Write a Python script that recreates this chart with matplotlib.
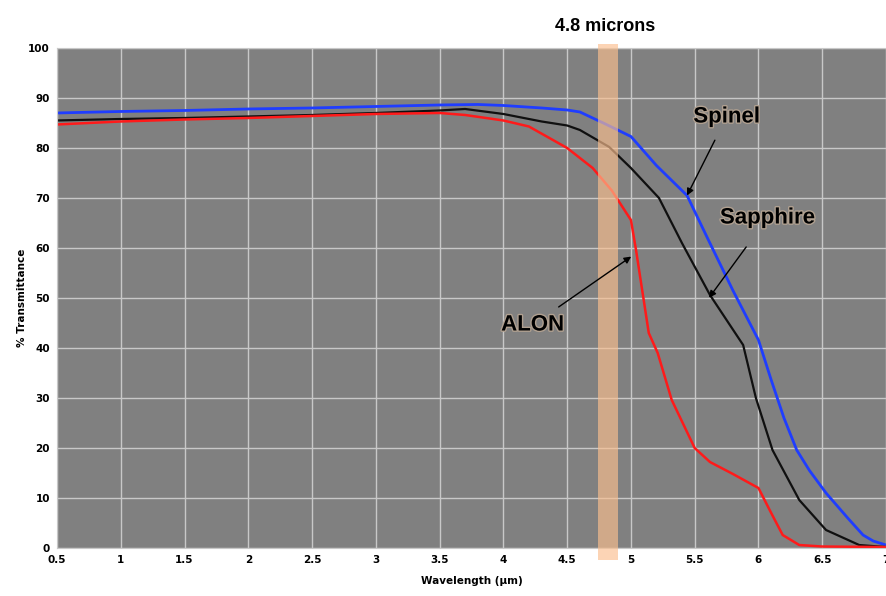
import numpy as np
import matplotlib.pyplot as plt
import matplotlib.transforms as mtransforms
from matplotlib.patches import Rectangle
import matplotlib.patheffects as pe

# Values
spinel_x = [0.5, 1.0, 1.5, 2.0, 2.5, 3.0, 3.5, 3.8, 4.0, 4.3, 4.5, 4.6, 4.8, 5.0, 5.2, 5.44, 5.6, 5.8, 6.0, 6.1, 6.2, 6.3, 6.4, 6.53, 6.7, 6.82, 6.9, 7.0]
spinel_y = [87.0, 87.3, 87.5, 87.8, 88.0, 88.3, 88.6, 88.7, 88.5, 88.0, 87.6, 87.2, 84.8, 82.3, 76.5, 70.5, 62.0, 51.5, 41.6, 33.6, 26.0, 19.6, 15.5, 11.0, 6.0, 2.6, 1.4, 0.6]

sapphire_x = [0.5, 1.0, 1.5, 2.0, 2.5, 3.0, 3.5, 3.7, 4.0, 4.3, 4.5, 4.6, 4.83, 5.0, 5.22, 5.4, 5.62, 5.88, 5.98, 6.11, 6.32, 6.53, 6.79, 7.0]
sapphire_y = [85.5, 85.8, 86.0, 86.3, 86.6, 87.0, 87.5, 87.8, 86.8, 85.3, 84.5, 83.6, 80.2, 76.0, 70.0, 61.0, 50.6, 40.6, 30.0, 19.6, 9.6, 3.6, 0.6, 0.2]

alon_x = [0.5, 1.0, 1.5, 2.0, 2.5, 3.0, 3.5, 3.7, 4.0, 4.2, 4.5, 4.7, 4.85, 5.0, 5.04, 5.14, 5.21, 5.32, 5.5, 5.62, 5.8, 6.0, 6.1, 6.19, 6.32, 6.5, 7.0]
alon_y = [84.7, 85.3, 85.7, 86.0, 86.4, 86.8, 87.0, 86.6, 85.5, 84.3, 80.0, 76.0, 71.5, 65.6, 59.6, 43.0, 39.0, 29.6, 20.0, 17.2, 14.8, 12.0, 7.0, 2.6, 0.6, 0.3, 0.2]

xticks = [0.5, 1, 1.5, 2, 2.5, 3, 3.5, 4, 4.5, 5, 5.5, 6, 6.5, 7]
xtick_labels = ['0.5', '1', '1.5', '2', '2.5', '3', '3.5', '4', '4.5', '5', '5.5', '6', '6.5', '7']
yticks = [0, 10, 20, 30, 40, 50, 60, 70, 80, 90, 100]

band = (4.74, 4.90)

fig = plt.figure(figsize=(8.86, 5.96), dpi=100)
ax = fig.add_axes([0.0643, 0.0805, 0.9357, 0.839])
ax.set_facecolor('#808080')

ax.plot(spinel_x, spinel_y, color='#1f3dff', lw=2.0)
ax.plot(sapphire_x, sapphire_y, color='#101010', lw=1.6)
ax.plot(alon_x, alon_y, color='#ff1a1a', lw=1.8)

ax.set_xlim(0.5, 7)
ax.set_ylim(0, 100)
ax.set_xticks(xticks)
ax.set_xticklabels(xtick_labels)
ax.set_yticks(yticks)
ax.grid(True, color='#c8c8c8', lw=1.0)
ax.set_axisbelow(True)
ax.tick_params(length=0, labelsize=7.5, pad=5)
for lab in ax.get_xticklabels() + ax.get_yticklabels():
    lab.set_fontweight('bold')
for s in ax.spines.values():
    s.set_color('#c8c8c8')

ax.set_xlabel('Wavelength (µm)', fontsize=7.5, fontweight='bold', labelpad=8)
ax.set_ylabel('% Transmittance', fontsize=7.5, fontweight='bold', labelpad=1)

# 4.8 micron band, reaching a little beyond the plot area
trans = mtransforms.blended_transform_factory(ax.transData, ax.transAxes)
ax.add_patch(Rectangle((band[0], -0.024), band[1] - band[0], 1.032, transform=trans,
                       facecolor='#fbbf8f', alpha=0.66, edgecolor='none', clip_on=False, zorder=5))
ax.text(4.8, 1.042, '4.8 microns', transform=trans, ha='center', va='center',
        fontsize=13, fontweight='bold', family='Liberation Sans')

glow = [pe.withStroke(linewidth=2, foreground='#b0a090')]
arrow = dict(arrowstyle='-|>', color='black', lw=1.0, mutation_scale=10)
ax.annotate('Spinel', xy=(5.43, 70), xytext=(5.75, 86.2), ha='center', va='center',
            fontsize=16, fontweight='bold', family='Liberation Sans', path_effects=glow,
            arrowprops=dict(arrow, shrinkA=8), zorder=6)
ax.annotate('Sapphire', xy=(5.60, 49.6), xytext=(6.07, 66.0), ha='center', va='center',
            fontsize=16, fontweight='bold', family='Liberation Sans', path_effects=glow,
            arrowprops=dict(arrow, shrinkA=14), zorder=6)
ax.annotate('ALON', xy=(5.02, 58.6), xytext=(4.23, 44.6), ha='center', va='center',
            fontsize=16, fontweight='bold', family='Liberation Sans', path_effects=glow,
            arrowprops=dict(arrow, shrinkA=6), zorder=6)

fig.savefig('out.png', dpi=100)
